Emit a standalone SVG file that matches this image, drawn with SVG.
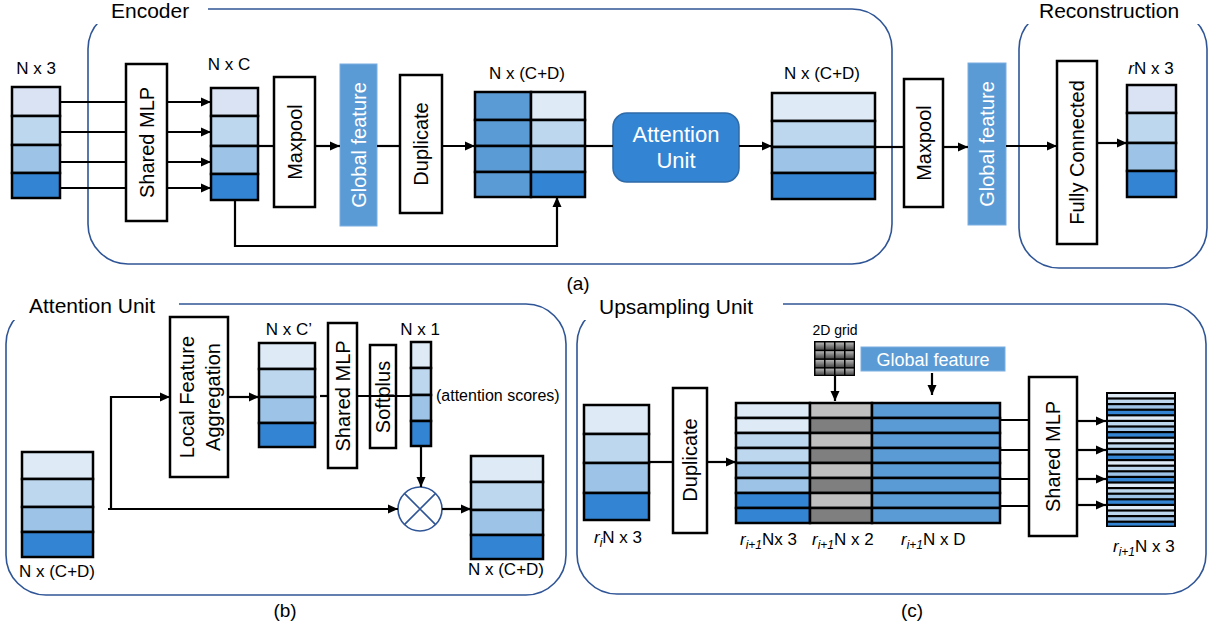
<svg xmlns="http://www.w3.org/2000/svg" width="1209" height="631" viewBox="0 0 1209 631">
  <defs>
    <style>
      text { font-family: "Liberation Sans", Arial, sans-serif; fill: #000; }
      .box { fill: #fff; stroke: #000; stroke-width: 2.5; }
      .cell { stroke: #000; stroke-width: 2.5; }
      .c0 { fill: #dae3f3; }
      .c1 { fill: #deebf7; }
      .c2 { fill: #bdd7ee; }
      .c3 { fill: #9dc3e6; }
      .c4 { fill: #3385d3; }
      .cm { fill: #5b9bd5; }
      .g1 { fill: #bfbfbf; }
      .g2 { fill: #7f7f7f; }
      .gf { fill: #5b9bd5; stroke: #7aaee0; stroke-width: 1; }
      .frame { fill: none; stroke: #2f5597; stroke-width: 1.6; }
      .gap { fill: #fff; }
      .wire { fill: none; stroke: #000; stroke-width: 2.2; }
      .arr { marker-end: url(#ah); }
      .sec { font-size: 21px; }
      .lbl { font-size: 17px; }
      .cap { font-size: 19px; text-anchor: middle; }
      .bt { font-size: 20px; text-anchor: middle; }
      .wt { fill: #fff; }
      .it { font-style: italic; }
      .sub { font-style: italic; font-size: 12px; }
    </style>
    <marker id="ah" viewBox="0 0 10 10" refX="10" refY="5" markerWidth="10" markerHeight="10" markerUnits="userSpaceOnUse" orient="auto">
      <path d="M0,0.5 L10,5 L0,9.5 z" fill="#000"/>
    </marker>
    <linearGradient id="gridcell" x1="0" y1="0" x2="0" y2="1">
      <stop offset="0" stop-color="#b5b5b5"/>
      <stop offset="1" stop-color="#4a4a4a"/>
    </linearGradient>
  </defs>

  <!-- section frames with gaps for their titles -->
  <g id="frames">
    <rect class="frame" x="88" y="9" width="804" height="255" rx="40"/>
    <rect class="frame" x="1019" y="9" width="188" height="259" rx="40"/>
    <rect class="frame" x="6" y="304" width="560" height="291" rx="40"/>
    <rect class="frame" x="577" y="304" width="629" height="290" rx="40"/>
    <rect class="gap" x="91" y="0" width="117" height="24"/>
    <rect class="gap" x="1022" y="0" width="183" height="24"/>
    <rect class="gap" x="9" y="288" width="170" height="32"/>
    <rect class="gap" x="580" y="288" width="203" height="32"/>
    <text class="sec" x="111" y="18">Encoder</text>
    <text class="sec" x="1039" y="18">Reconstruction</text>
    <text class="sec" x="29" y="313">Attention Unit</text>
    <text class="sec" x="599" y="314">Upsampling Unit</text>
    <text class="cap" x="578" y="290">(a)</text>
    <text class="cap" x="285" y="617">(b)</text>
    <text class="cap" x="912" y="617">(c)</text>
  </g>

  <!-- (a) encoder / reconstruction nodes -->
  <g id="enc-input">
    <rect class="cell c0" x="12" y="87" width="48" height="29"/>
    <rect class="cell c2" x="12" y="116" width="48" height="29"/>
    <rect class="cell c3" x="12" y="145" width="48" height="28"/>
    <rect class="cell c4" x="12" y="173" width="48" height="25"/>
    <text class="lbl" x="36" y="74" text-anchor="middle">N x 3</text>
  </g>
  <g id="enc-mlp">
    <rect class="box" x="126" y="64" width="41" height="157"/>
    <text class="bt" transform="translate(146.5,142.5) rotate(-90)" dy="0.35em">Shared MLP</text>
  </g>
  <g id="enc-local">
    <rect class="cell c0" x="211" y="88" width="47" height="28"/>
    <rect class="cell c2" x="211" y="116" width="47" height="30"/>
    <rect class="cell c3" x="211" y="146" width="47" height="28"/>
    <rect class="cell c4" x="211" y="174" width="47" height="26"/>
    <text class="lbl" x="229" y="70" text-anchor="middle">N x C</text>
  </g>
  <g id="enc-maxpool">
    <rect class="box" x="274" y="77" width="41" height="130"/>
    <text class="bt" transform="translate(294.5,142) rotate(-90)" dy="0.35em">Maxpool</text>
  </g>
  <g id="enc-global">
    <rect class="gf" x="340" y="64" width="37" height="162"/>
    <text class="bt wt" transform="translate(358.5,145) rotate(-90)" dy="0.35em">Global feature</text>
  </g>
  <g id="enc-duplicate">
    <rect class="box" x="400" y="75" width="42" height="138"/>
    <text class="bt" transform="translate(421,144) rotate(-90)" dy="0.35em">Duplicate</text>
  </g>
  <g id="enc-concat">
    <rect class="cell cm" x="475" y="92" width="56" height="28"/>
    <rect class="cell cm" x="475" y="120" width="56" height="26"/>
    <rect class="cell cm" x="475" y="146" width="56" height="26"/>
    <rect class="cell cm" x="475" y="172" width="56" height="25"/>
    <rect class="cell c1" x="531" y="92" width="54" height="28"/>
    <rect class="cell c2" x="531" y="120" width="54" height="26"/>
    <rect class="cell c3" x="531" y="146" width="54" height="26"/>
    <rect class="cell c4" x="531" y="172" width="54" height="25"/>
    <text class="lbl" x="527" y="79" text-anchor="middle">N x (C+D)</text>
  </g>
  <g id="enc-attention">
    <rect x="613" y="113" width="126" height="69" rx="14" fill="#3385d3" stroke="#2e6aa8" stroke-width="1.5"/>
    <text x="676" y="142" font-size="22" text-anchor="middle" class="wt">Attention</text>
    <text x="676" y="168" font-size="22" text-anchor="middle" class="wt">Unit</text>
  </g>
  <g id="enc-output">
    <rect class="cell c1" x="772" y="93" width="103" height="28"/>
    <rect class="cell c2" x="772" y="121" width="103" height="26"/>
    <rect class="cell c3" x="772" y="147" width="103" height="26"/>
    <rect class="cell c4" x="772" y="173" width="103" height="26"/>
    <text class="lbl" x="822" y="79" text-anchor="middle">N x (C+D)</text>
  </g>
  <g id="rec-maxpool">
    <rect class="box" x="904" y="79" width="39" height="128"/>
    <text class="bt" transform="translate(923.5,143) rotate(-90)" dy="0.35em">Maxpool</text>
  </g>
  <g id="rec-global">
    <rect class="gf" x="968" y="63" width="38" height="162"/>
    <text class="bt wt" transform="translate(987,144) rotate(-90)" dy="0.35em">Global feature</text>
  </g>
  <g id="rec-fc">
    <rect class="box" x="1057" y="61" width="40" height="183"/>
    <text class="bt" transform="translate(1077,152.5) rotate(-90)" dy="0.35em">Fully Connected</text>
  </g>
  <g id="rec-output">
    <rect class="cell c0" x="1127" y="85" width="49" height="28"/>
    <rect class="cell c2" x="1127" y="113" width="49" height="30"/>
    <rect class="cell c3" x="1127" y="143" width="49" height="28"/>
    <rect class="cell c4" x="1127" y="171" width="49" height="26"/>
    <text class="lbl" x="1151" y="74" text-anchor="middle"><tspan class="it">r</tspan>N x 3</text>
  </g>

  <!-- (b) attention unit nodes -->
  <g id="att-input">
    <rect class="cell c1" x="22" y="452" width="71" height="27"/>
    <rect class="cell c2" x="22" y="479" width="71" height="28"/>
    <rect class="cell c3" x="22" y="507" width="71" height="25"/>
    <rect class="cell c4" x="22" y="532" width="71" height="25"/>
    <text class="lbl" x="57" y="577" text-anchor="middle">N x (C+D)</text>
  </g>
  <g id="att-lfa">
    <rect class="box" x="170" y="317" width="58" height="160"/>
    <text class="bt" transform="translate(187,397) rotate(-90)" dy="0.35em">Local Feature</text>
    <text class="bt" transform="translate(213,397) rotate(-90)" dy="0.35em">Aggregation</text>
  </g>
  <g id="att-local">
    <rect class="cell c1" x="259" y="343" width="56" height="26"/>
    <rect class="cell c2" x="259" y="369" width="56" height="28"/>
    <rect class="cell c3" x="259" y="397" width="56" height="26"/>
    <rect class="cell c4" x="259" y="423" width="56" height="24"/>
    <text class="lbl" x="289" y="335" text-anchor="middle">N x C’</text>
  </g>
  <g id="att-mlp">
    <rect class="box" x="328" y="323" width="29" height="145"/>
    <text class="bt" transform="translate(342.5,396) rotate(-90)" dy="0.35em">Shared MLP</text>
  </g>
  <g id="att-softplus">
    <rect class="box" x="370" y="345" width="26" height="103"/>
    <text class="bt" transform="translate(383,397) rotate(-90)" dy="0.35em">Softplus</text>
  </g>
  <g id="att-scores">
    <rect class="cell c1" x="411" y="342" width="20" height="26"/>
    <rect class="cell c2" x="411" y="368" width="20" height="27"/>
    <rect class="cell c3" x="411" y="395" width="20" height="26"/>
    <rect class="cell c4" x="411" y="421" width="20" height="25"/>
    <text class="lbl" x="420" y="335" text-anchor="middle">N x 1</text>
    <text x="436" y="401" font-size="16">(attention scores)</text>
  </g>
  <g id="att-multiply">
    <circle cx="420" cy="509" r="22" fill="#fff" stroke="#2f5597" stroke-width="1.6"/>
    <path d="M404.4,493.4 L435.6,524.6 M435.6,493.4 L404.4,524.6" stroke="#2f5597" stroke-width="1.6"/>
  </g>
  <g id="att-output">
    <rect class="cell c1" x="471" y="456" width="72" height="26"/>
    <rect class="cell c2" x="471" y="482" width="72" height="28"/>
    <rect class="cell c3" x="471" y="510" width="72" height="25"/>
    <rect class="cell c4" x="471" y="535" width="72" height="24"/>
    <text class="lbl" x="506" y="575" text-anchor="middle">N x (C+D)</text>
  </g>

  <!-- (c) upsampling unit nodes -->
  <g id="up-input">
    <rect class="cell c1" x="584" y="405" width="65" height="29"/>
    <rect class="cell c2" x="584" y="434" width="65" height="29"/>
    <rect class="cell c3" x="584" y="463" width="65" height="30"/>
    <rect class="cell c4" x="584" y="493" width="65" height="27"/>
    <text class="lbl" x="594" y="543"><tspan class="it">r</tspan><tspan class="sub" dy="4">i</tspan><tspan dy="-4">N x 3</tspan></text>
  </g>
  <g id="up-duplicate">
    <rect class="box" x="673" y="388" width="34" height="145"/>
    <text class="bt" transform="translate(690,460) rotate(-90)" dy="0.35em">Duplicate</text>
  </g>
  <g id="up-grid">
    <text x="835" y="335" font-size="14" text-anchor="middle">2D grid</text>
    <rect x="814" y="341" width="41" height="35" fill="#000"/>
    <g fill="url(#gridcell)">
      <rect x="815.5" y="342.5" width="8.5" height="7.2"/><rect x="825.5" y="342.5" width="8.5" height="7.2"/><rect x="835.5" y="342.5" width="8.5" height="7.2"/><rect x="845.5" y="342.5" width="8.2" height="7.2"/>
      <rect x="815.5" y="351.2" width="8.5" height="7.2"/><rect x="825.5" y="351.2" width="8.5" height="7.2"/><rect x="835.5" y="351.2" width="8.5" height="7.2"/><rect x="845.5" y="351.2" width="8.2" height="7.2"/>
      <rect x="815.5" y="359.9" width="8.5" height="7.2"/><rect x="825.5" y="359.9" width="8.5" height="7.2"/><rect x="835.5" y="359.9" width="8.5" height="7.2"/><rect x="845.5" y="359.9" width="8.2" height="7.2"/>
      <rect x="815.5" y="368.6" width="8.5" height="6.2"/><rect x="825.5" y="368.6" width="8.5" height="6.2"/><rect x="835.5" y="368.6" width="8.5" height="6.2"/><rect x="845.5" y="368.6" width="8.2" height="6.2"/>
    </g>
  </g>
  <g id="up-global">
    <rect class="gf" x="861" y="347" width="144" height="24"/>
    <text x="933" y="366" font-size="18" text-anchor="middle" class="wt">Global feature</text>
  </g>
  <g id="up-concat">
    <rect class="cell c1" x="736" y="403" width="74" height="15"/>
    <rect class="cell c1" x="736" y="418" width="74" height="15"/>
    <rect class="cell c2" x="736" y="433" width="74" height="15"/>
    <rect class="cell c2" x="736" y="448" width="74" height="15"/>
    <rect class="cell c3" x="736" y="463" width="74" height="15"/>
    <rect class="cell c3" x="736" y="478" width="74" height="15"/>
    <rect class="cell c4" x="736" y="493" width="74" height="15"/>
    <rect class="cell c4" x="736" y="508" width="74" height="15"/>
    <rect class="cell g1" x="810" y="403" width="62" height="15"/>
    <rect class="cell g2" x="810" y="418" width="62" height="15"/>
    <rect class="cell g1" x="810" y="433" width="62" height="15"/>
    <rect class="cell g2" x="810" y="448" width="62" height="15"/>
    <rect class="cell g1" x="810" y="463" width="62" height="15"/>
    <rect class="cell g2" x="810" y="478" width="62" height="15"/>
    <rect class="cell g1" x="810" y="493" width="62" height="15"/>
    <rect class="cell g2" x="810" y="508" width="62" height="15"/>
    <rect class="cell cm" x="872" y="403" width="128" height="15"/>
    <rect class="cell cm" x="872" y="418" width="128" height="15"/>
    <rect class="cell cm" x="872" y="433" width="128" height="15"/>
    <rect class="cell cm" x="872" y="448" width="128" height="15"/>
    <rect class="cell cm" x="872" y="463" width="128" height="15"/>
    <rect class="cell cm" x="872" y="478" width="128" height="15"/>
    <rect class="cell cm" x="872" y="493" width="128" height="15"/>
    <rect class="cell cm" x="872" y="508" width="128" height="15"/>
    <text class="lbl" x="740" y="545"><tspan class="it">r</tspan><tspan class="sub" dy="4">i+1</tspan><tspan dy="-4">Nx 3</tspan></text>
    <text class="lbl" x="812" y="545"><tspan class="it">r</tspan><tspan class="sub" dy="4">i+1</tspan><tspan dy="-4">N x 2</tspan></text>
    <text class="lbl" x="901" y="545"><tspan class="it">r</tspan><tspan class="sub" dy="4">i+1</tspan><tspan dy="-4">N x D</tspan></text>
  </g>
  <g id="up-mlp">
    <rect class="box" x="1029" y="377" width="48" height="159"/>
    <text class="bt" transform="translate(1053,456.5) rotate(-90)" dy="0.35em">Shared MLP</text>
  </g>
  <g id="up-output">
    <rect x="1106" y="392" width="70" height="135" fill="#000"/>
    <g>
      <rect class="c1" x="1108" y="394.0" width="66" height="3.4"/>
      <rect class="c2" x="1108" y="399.6" width="66" height="3.4"/>
      <rect class="c3" x="1108" y="405.2" width="66" height="3.4"/>
      <rect class="c4" x="1108" y="410.8" width="66" height="3.4"/>
      <rect class="c1" x="1108" y="416.4" width="66" height="3.4"/>
      <rect class="c2" x="1108" y="422.0" width="66" height="3.4"/>
      <rect class="c3" x="1108" y="427.6" width="66" height="3.4"/>
      <rect class="c4" x="1108" y="433.2" width="66" height="3.4"/>
      <rect class="c1" x="1108" y="438.8" width="66" height="3.4"/>
      <rect class="c2" x="1108" y="444.4" width="66" height="3.4"/>
      <rect class="c3" x="1108" y="450.0" width="66" height="3.4"/>
      <rect class="c4" x="1108" y="455.6" width="66" height="3.4"/>
      <rect class="c1" x="1108" y="461.2" width="66" height="3.4"/>
      <rect class="c2" x="1108" y="466.8" width="66" height="3.4"/>
      <rect class="c3" x="1108" y="472.4" width="66" height="3.4"/>
      <rect class="c4" x="1108" y="478.0" width="66" height="3.4"/>
      <rect class="c1" x="1108" y="483.6" width="66" height="3.4"/>
      <rect class="c2" x="1108" y="489.2" width="66" height="3.4"/>
      <rect class="c3" x="1108" y="494.8" width="66" height="3.4"/>
      <rect class="c4" x="1108" y="500.4" width="66" height="3.4"/>
      <rect class="c1" x="1108" y="506.0" width="66" height="3.4"/>
      <rect class="c2" x="1108" y="511.6" width="66" height="3.4"/>
      <rect class="c3" x="1108" y="517.2" width="66" height="3.4"/>
      <rect class="c4" x="1108" y="522.8" width="66" height="2.8"/>
    </g>
    <text class="lbl" x="1113" y="552"><tspan class="it">r</tspan><tspan class="sub" dy="4">i+1</tspan><tspan dy="-4">N x 3</tspan></text>
  </g>

  <!-- connectors -->
  <g id="connectors">
    <!-- (a) -->
    <path class="wire" d="M60,102 H126 M60,132 H126 M60,162 H126 M60,188 H126"/>
    <path class="wire arr" d="M167,102 H211"/>
    <path class="wire arr" d="M167,132 H211"/>
    <path class="wire arr" d="M167,162 H211"/>
    <path class="wire arr" d="M167,188 H211"/>
    <path class="wire" d="M258,146 H274"/>
    <path class="wire arr" d="M315,146 H340"/>
    <path class="wire" d="M377,146 H400"/>
    <path class="wire arr" d="M442,146 H475"/>
    <path class="wire arr" d="M235,200 V246 H557 V197"/>
    <path class="wire" d="M585,146 H613"/>
    <path class="wire arr" d="M739,146 H772"/>
    <path class="wire" d="M875,147 H904"/>
    <path class="wire arr" d="M943,147 H968"/>
    <path class="wire arr" d="M1006,146 H1057"/>
    <path class="wire arr" d="M1097,143 H1127"/>
    <!-- (b) -->
    <path class="wire arr" d="M108,509 H398"/>
    <path class="wire arr" d="M111,510 V397 H170"/>
    <path class="wire arr" d="M228,397 H259"/>
    <path class="wire" d="M320,396 H328"/>
    <path class="wire" d="M357,396 H411"/>
    <path class="wire arr" d="M421,446 V487"/>
    <path class="wire arr" d="M442,509 H471"/>
    <!-- (c) -->
    <path class="wire" d="M649,462 H673"/>
    <path class="wire arr" d="M707,462 H736"/>
    <path class="wire arr" d="M835,376 V401"/>
    <path class="wire arr" d="M932,373 V395"/>
    <path class="wire" d="M1000,420 H1029 M1000,450 H1029 M1000,479 H1029 M1000,506 H1029"/>
    <path class="wire arr" d="M1077,421 H1106"/>
    <path class="wire arr" d="M1077,450 H1106"/>
    <path class="wire arr" d="M1077,479 H1106"/>
    <path class="wire arr" d="M1077,505 H1106"/>
  </g>
</svg>
